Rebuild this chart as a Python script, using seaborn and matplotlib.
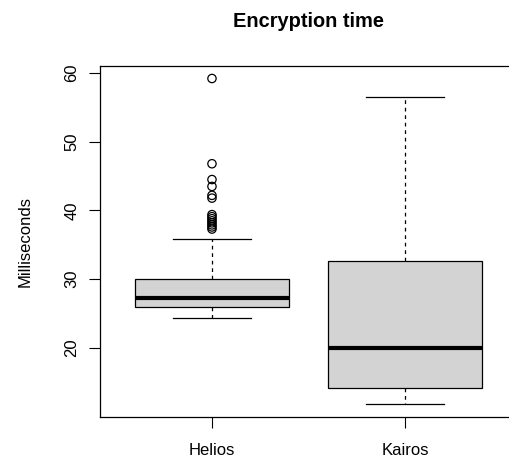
import pandas as pd
import seaborn as sns
import matplotlib.pyplot as plt
from matplotlib.collections import PathCollection

plt.rcParams['font.family'] = ['Liberation Sans', 'DejaVu Sans']

groups = ['Helios', 'Kairos']
# five-number summaries: low whisker, Q1, median, Q3, high whisker
helios_summary = [24.4, 26.0, 27.2, 30.0, 35.9]
kairos_summary = [11.85, 14.2, 20.0, 32.65, 56.5]
helios_outliers = [37.3, 37.6, 37.9, 38.2, 38.5, 38.8, 39.1, 39.4,
                   41.8, 42.2, 43.5, 44.5, 46.8, 59.2]

df = pd.DataFrame({'group': ['Helios'] * len(helios_summary) + ['Kairos'] * len(kairos_summary),
                   'ms': helios_summary + kairos_summary})
out = pd.DataFrame({'group': ['Helios'] * len(helios_outliers), 'ms': helios_outliers})

fig = plt.figure(figsize=(5.09, 4.59), dpi=100)
ax = fig.add_axes([100 / 509, 1 - 417 / 459, 417 / 509, (417 - 65.5) / 459])

sns.boxplot(data=df, x='group', y='ms', order=groups, color='lightgray', width=0.8,
            linecolor='black', linewidth=0.9, showfliers=False, ax=ax,
            whiskerprops=dict(linestyle=(0, (3, 3))),
            medianprops=dict(linewidth=3, color='black'))
sns.stripplot(data=out, x='group', y='ms', order=groups, jitter=False, color='black',
              size=6, ax=ax)
for c in ax.collections:
    if isinstance(c, PathCollection):
        c.set_facecolor('none')
        c.set_edgecolor('black')
        c.set_linewidth(0.9)

ax.set_xlim(-0.58, 1.58)
ax.set_ylim(9.96, 61.09)
ax.set_yticks([20, 30, 40, 50, 60])
ax.set_xlabel('')
ax.set_ylabel('Milliseconds', fontsize=12, labelpad=23)
ax.set_title('Encryption time', fontsize=14.4, fontweight='bold', pad=28)
ax.tick_params(length=8, width=0.8, labelsize=12)
ax.tick_params(axis='x', pad=11)
ax.tick_params(axis='y', pad=7)
plt.setp(ax.get_yticklabels(), rotation=90, va='center')
for s in ax.spines.values():
    s.set_linewidth(0.9)

fig.savefig('out.png', dpi=100)
